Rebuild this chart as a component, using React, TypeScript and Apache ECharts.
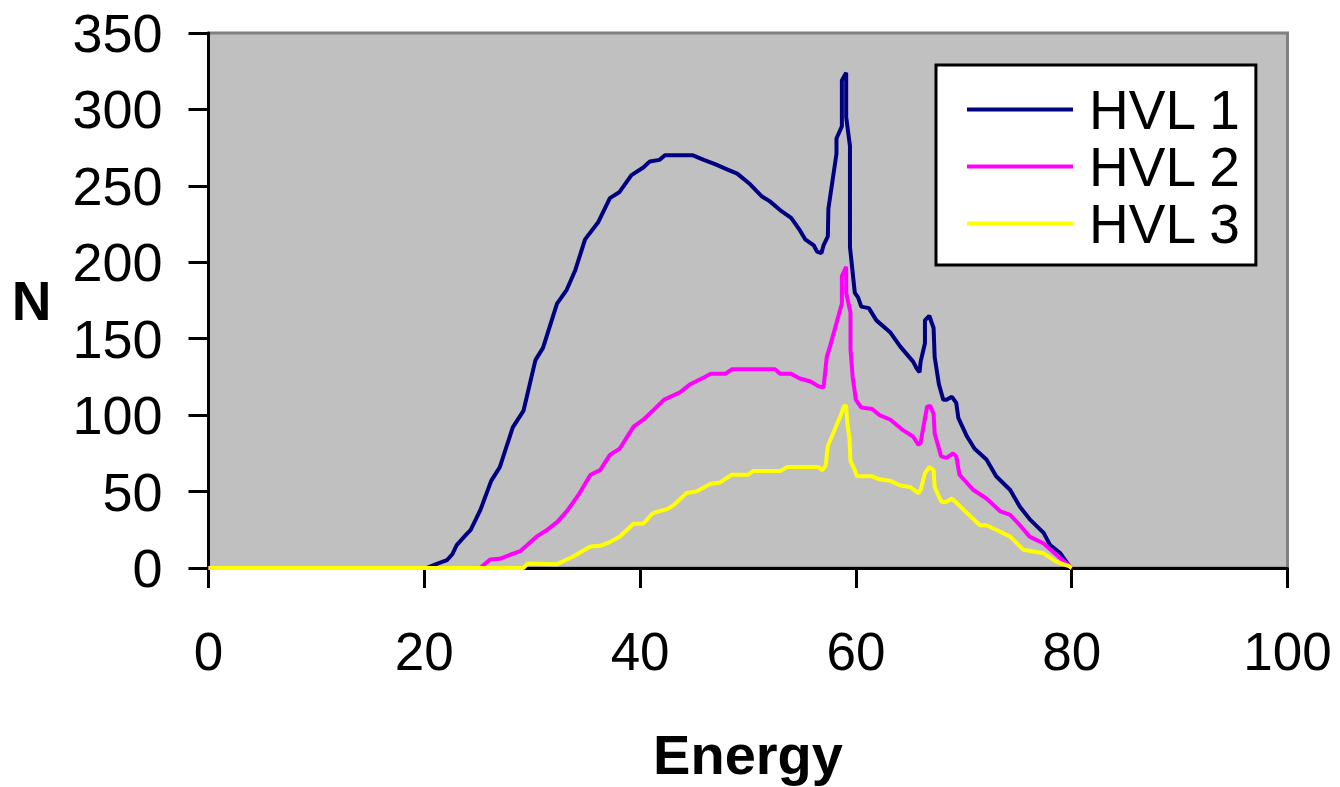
import React, { useEffect, useRef } from "react";
import * as echarts from "echarts";

const seriesNames = ["HVL 1", "HVL 2", "HVL 3"];
const seriesColors = ["#000080", "#FF00FF", "#FFFF00"];

const hvl1Energy = [0, 20.2, 21.1, 22.1, 22.6, 23.0, 23.9, 24.3, 25.2, 26.2, 27.0, 28.2, 29.2, 30.3, 31.0, 32.3, 33.2, 34.0, 34.9, 36.1, 37.2, 38.1, 39.2, 40.3, 40.9, 41.8, 42.3, 44.9, 45.9, 47.0, 48.0, 49.0, 50.2, 51.3, 52.0, 53.0, 54.0, 54.8, 55.3, 56.1, 56.4, 56.8, 57.0, 57.4, 57.45, 58.2, 58.2, 58.7, 58.7, 59.1, 59.1, 59.45, 59.45, 59.9, 60.2, 60.5, 61.2, 61.9, 63.2, 64.1, 65.3, 65.6, 65.9, 66.0, 66.4, 66.4, 66.8, 67.2, 67.3, 67.7, 68.1, 68.4, 68.9, 69.3, 69.5, 70.3, 71.0, 72.1, 73.0, 74.3, 75.2, 76.1, 77.4, 78.0, 78.9, 79.8, 80];
const hvl1Counts = [0, 0, 2.6, 5.2, 9, 15, 22, 25, 38, 57, 66, 92, 103, 136, 144, 173, 182, 195, 215, 226, 242, 246, 257, 262, 266, 267, 270, 270, 267, 264, 261, 258, 251, 243, 240, 234, 229, 221, 215, 211, 207, 206, 211, 217, 235, 271, 281, 289, 319, 324, 295, 276, 210, 180, 177, 171, 170, 162, 154, 145, 135, 131, 128, 135, 147, 162, 165, 157, 138, 120, 110, 110, 112, 108, 98, 86, 78, 71, 60, 51, 40, 32, 23, 15, 10, 1, 0];

const hvl2Energy = [0, 25.2, 25.5, 26.1, 27.0, 27.9, 28.9, 29.2, 30.4, 31.3, 32.3, 33.2, 34.4, 35.4, 36.3, 37.2, 38.1, 39.4, 40.3, 41.2, 42.2, 43.7, 44.6, 46.0, 46.5, 47.9, 48.5, 52.5, 53.0, 54.0, 54.8, 55.8, 56.5, 57.0, 57.3, 57.6, 58.7, 58.7, 59.1, 59.1, 59.5, 59.5, 59.7, 60.0, 60.5, 61.5, 62.2, 63.2, 64.4, 65.3, 65.8, 66.0, 66.3, 66.6, 66.9, 67.2, 67.3, 67.9, 68.4, 69.0, 69.3, 69.6, 70.9, 72.1, 73.4, 74.3, 75.2, 76.1, 77.4, 78.6, 79.8, 80];
const hvl2Counts = [0, 0, 2, 5.5, 6, 8.5, 11, 13, 20.5, 24.5, 30, 37, 49, 61, 64, 74, 78, 92.5, 97, 103, 110, 115, 120, 125, 127, 127, 130, 130, 127, 127, 124, 122, 119, 118, 138, 145, 173, 191, 197, 180, 167, 143, 125, 110, 105, 104, 100, 97, 90, 86, 80.5, 82, 94, 105.5, 106, 101, 88, 73, 72, 75, 73, 61, 51, 45.5, 37, 34.7, 28, 20.5, 16, 8.5, 1.3, 0];

const hvl3Energy = [0, 29.2, 29.6, 32.3, 33.8, 35.4, 36.3, 37.2, 38.1, 39.4, 40.3, 41.2, 42.5, 43.1, 44.3, 45.2, 46.5, 47.4, 48.5, 50.0, 50.5, 53.0, 53.6, 56.5, 56.9, 57.2, 57.4, 58.0, 58.6, 58.9, 59.1, 59.2, 59.4, 59.5, 59.9, 60.1, 61.5, 62.2, 63.2, 64.1, 65.0, 65.8, 66.0, 66.4, 66.8, 67.2, 67.3, 67.9, 68.3, 68.9, 70.0, 71.5, 72.1, 73.0, 74.3, 75.5, 77.4, 78.6, 79.8, 80];
const hvl3Counts = [0, 0, 3, 2.5, 7.5, 14, 14.5, 17, 20.5, 29, 29, 36, 38.5, 41, 49, 50, 55, 56, 61, 61, 63.5, 63.5, 66, 66, 64, 67, 80, 90, 100, 106, 106, 95, 85, 70, 64, 60, 60, 58, 57, 54, 53, 49, 51, 62, 66, 64, 53, 43.5, 43, 45.5, 38, 28, 28, 25, 20.5, 12, 9.6, 4, 1, 0];

const xTicks = [0, 20, 40, 60, 80, 100];
const yTicks = [0, 50, 100, 150, 200, 250, 300, 350];

const FONT = "'Liberation Sans', Arial, sans-serif";

function pairs(xs: number[], ys: number[]) {
  return xs.map((x, i) => [x, ys[i]]);
}

export default function App() {
  const ref = useRef<HTMLDivElement>(null);
  useEffect(() => {
    document.body.style.margin = "0";
    if (!ref.current) return;
    const chart = echarts.init(ref.current, null, { renderer: "svg" });
    const data = [pairs(hvl1Energy, hvl1Counts), pairs(hvl2Energy, hvl2Counts), pairs(hvl3Energy, hvl3Counts)];
    chart.setOption({
      animation: false,
      backgroundColor: "#FFFFFF",
      grid: {
        left: 208.5,
        right: 52.5,
        top: 33,
        bottom: 219,
        show: true,
        backgroundColor: "#C0C0C0",
        borderColor: "#808080",
        borderWidth: 3,
      },
      legend: {
        data: seriesNames,
        orient: "vertical",
        left: 936,
        top: 65,
        padding: [16, 14, 13, 31],
        itemGap: 0,
        itemWidth: 106,
        itemHeight: 4,
        icon: "rect",
        backgroundColor: "#FFFFFF",
        borderColor: "#000000",
        borderWidth: 3,
        textStyle: { fontFamily: FONT, fontSize: 55, lineHeight: 57, color: "#000", padding: [0, 0, 0, 11] },
      },
      xAxis: {
        type: "value",
        min: xTicks[0],
        max: xTicks[xTicks.length - 1],
        interval: 20,
        name: "Energy",
        nameLocation: "middle",
        nameGap: 158,
        nameTextStyle: { fontFamily: FONT, fontSize: 56, fontWeight: "bold", color: "#000" },
        axisLine: { show: true, lineStyle: { color: "#000", width: 3 } },
        axisTick: { show: true, length: 20, lineStyle: { color: "#000", width: 3 } },
        axisLabel: { fontFamily: FONT, fontSize: 53, color: "#000", margin: 57 },
        splitLine: { show: false },
      },
      yAxis: {
        type: "value",
        min: yTicks[0],
        max: yTicks[yTicks.length - 1],
        interval: 50,
        name: "N",
        nameLocation: "middle",
        nameGap: 157,
        nameRotate: 0,
        nameTextStyle: { fontFamily: FONT, fontSize: 55, fontWeight: "bold", color: "#000" },
        axisLine: { show: true, lineStyle: { color: "#000", width: 3 } },
        axisTick: { show: true, length: 20, lineStyle: { color: "#000", width: 3 } },
        axisLabel: { fontFamily: FONT, fontSize: 54, color: "#000", margin: 46 },
        splitLine: { show: false },
      },
      series: seriesNames.map((name, i) => ({
        name,
        type: "line",
        data: data[i],
        showSymbol: false,
        symbol: "none",
        lineStyle: { color: seriesColors[i], width: 4 },
        itemStyle: { color: seriesColors[i] },
      })),
    });
    return () => chart.dispose();
  }, []);
  return <div ref={ref} style={{ position: "absolute", left: 0, top: 0, width: 1340, height: 787 }} />;
}
